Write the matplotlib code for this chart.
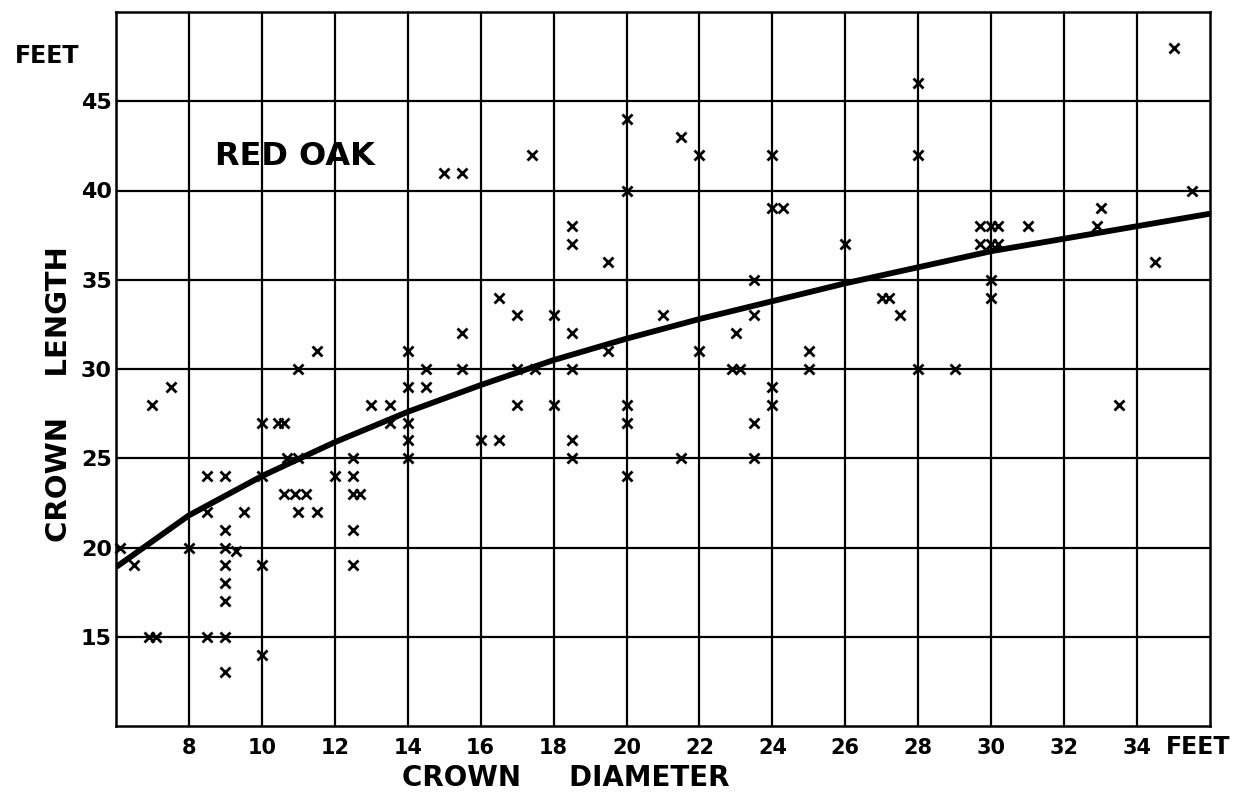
import matplotlib
matplotlib.use("Agg")
import matplotlib.pyplot as plt

# ── data (crown diameter ft, crown length ft) ────────────────────────────────
diam = [
    6.1, 6.5, 7.0, 7.5, 6.9, 7.1, 8.0,
    8.5, 9.0, 8.5, 9.5, 9.0, 9.0, 9.3, 9.0, 9.0, 9.0, 8.5, 9.0, 9.0,
    10.0, 10.0, 10.0, 10.0, 10.45, 10.6, 11.0, 11.5, 10.7, 11.0,
    10.6, 10.9, 11.2, 11.0, 11.5,
    12.0, 12.5, 12.5, 12.5, 12.7, 12.5, 12.5, 13.0, 13.5, 13.5,
    14.0, 14.0, 14.0, 14.0, 14.0, 14.5, 14.5, 15.5, 15.5, 15.0, 15.5,
    16.0, 16.5, 16.5, 17.0, 17.0, 17.0, 17.5, 17.4, 18.0, 18.0,
    18.5, 18.5, 18.5, 18.5, 18.5, 18.5, 19.5, 19.5,
    20.0, 20.0, 20.0, 20.0, 20.0, 21.0, 21.5, 21.5,
    22.0, 22.0, 23.0, 22.9, 23.1, 23.5, 23.5, 23.5, 23.5,
    24.0, 24.0, 24.3, 24.0, 24.0, 25.0, 25.0,
    26.0, 27.0, 27.2, 27.5, 28.0, 28.0, 28.0, 29.0,
    29.7, 30.0, 30.2, 29.7, 30.0, 30.2, 30.0, 30.0, 31.0,
    32.9, 33.0, 33.5, 34.5, 35.0, 35.5,
]
length = [
    20, 19, 28, 29, 15, 15, 20,
    24, 24, 22, 22, 21, 20, 19.8, 19, 18, 17, 15, 15, 13,
    14, 19, 24, 27, 27, 27, 30, 31, 25, 25,
    23, 23, 23, 22, 22,
    24, 25, 24, 23, 23, 21, 19, 28, 28, 27,
    31, 29, 27, 26, 25, 30, 29, 30, 32, 41, 41,
    26, 26, 34, 33, 30, 28, 30, 42, 33, 28,
    38, 37, 32, 30, 26, 25, 36, 31,
    44, 40, 28, 27, 24, 33, 43, 25,
    42, 31, 32, 30, 30, 35, 33, 27, 25,
    42, 39, 39, 29, 28, 31, 30,
    37, 34, 34, 33, 46, 42, 30, 30,
    38, 38, 38, 37, 37, 37, 35, 34, 38,
    38, 39, 28, 36, 48, 40,
]

# hand-drawn curve, read every 2 ft
curve_x = [6, 8, 10, 12, 14, 16, 18, 20, 22, 24, 26, 28, 30, 32, 34, 36]
curve_y = [18.9, 21.8, 24.0, 25.9, 27.6, 29.1, 30.5, 31.7, 32.8, 33.8,
           34.8, 35.7, 36.6, 37.3, 38.0, 38.7]

x_ticks = list(range(8, 36, 2))
y_ticks = [15, 20, 25, 30, 35, 40, 45]

W, H = 1239, 795
plt.rcParams.update({
    "font.family": "DejaVu Sans",
    "font.weight": "bold",
})

fig = plt.figure(figsize=(W / 100, H / 100), dpi=100, facecolor="white")
ax = fig.add_axes([116 / W, 1 - 726 / H, (1210 - 116) / W, 714 / H])

ax.set_xlim(6, 36)
ax.set_ylim(10, 50)
ax.set_xticks(x_ticks)
ax.set_yticks(y_ticks)
ax.set_xticklabels([str(t) for t in x_ticks], fontsize=15, fontweight="bold")
ax.set_yticklabels([str(t) for t in y_ticks], fontsize=16, fontweight="bold")
ax.tick_params(axis="both", length=0, colors="black")
ax.tick_params(axis="x", pad=9)
ax.tick_params(axis="y", pad=3)
ax.grid(True, color="black", linewidth=1.6)
ax.set_axisbelow(True)
for s in ax.spines.values():
    s.set_color("black")
    s.set_linewidth(1.8)

ax.plot(curve_x, curve_y, color="black", linewidth=4.2,
        solid_capstyle="butt", zorder=3)
ax.plot(diam, length, linestyle="none", marker="x", color="black",
        markersize=7.5, markeredgewidth=2.0, zorder=4, clip_on=False)

ax.text(10.9, 41.9, "RED OAK", fontsize=23, fontweight="bold",
        ha="center", va="center", zorder=5)

fig.text(47 / W, 1 - 56 / H, "FEET", fontsize=17, fontweight="bold",
         ha="center", va="center")
fig.text(1198 / W, 1 - 747 / H, "FEET", fontsize=17, fontweight="bold",
         ha="center", va="center")
fig.text(59 / W, 1 - 394 / H, "CROWN    LENGTH", fontsize=21,
         fontweight="bold", rotation=90, ha="center", va="center")
fig.text(402 / W, 1 - 778 / H, "CROWN     DIAMETER", fontsize=20,
         fontweight="bold", ha="left", va="center")

fig.savefig("out.png", dpi=100, facecolor="white")
